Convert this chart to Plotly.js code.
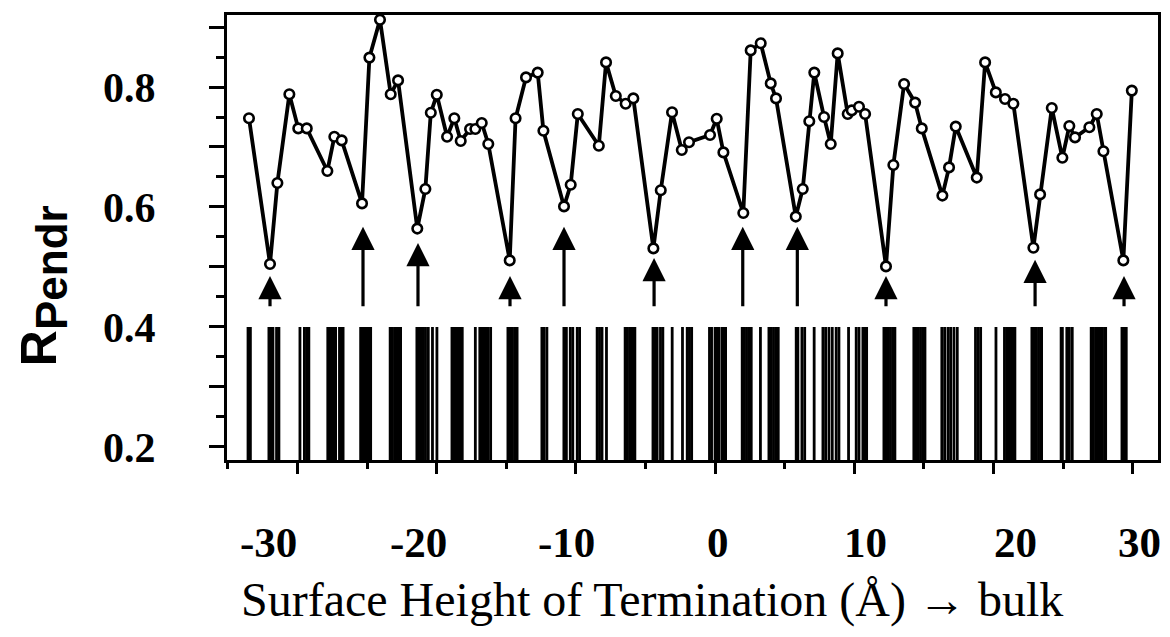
<!DOCTYPE html>
<html>
<head>
<meta charset="utf-8">
<script src="https://cdn.plot.ly/plotly-3.0.1.min.js"></script>
<style>html,body{margin:0;padding:0;background:#fff;}#chart{width:1170px;height:637px;}</style>
</head>
<body>
<div id="chart"></div>
<script>
// R_Pendr versus surface height of termination (Å)
const heights = [-33.48,-31.97,-31.44,-30.58,-29.94,-29.33,-27.85,-27.35,-26.82,-25.36,
  -24.83,-24.07,-23.30,-22.77,-21.39,-20.81,-20.42,-19.99,-19.25,-18.73,
  -18.27,-17.60,-17.22,-16.76,-16.29,-14.75,-14.33,-13.58,-12.74,-12.33,
  -10.85,-10.37,-9.86,-8.35,-7.83,-7.13,-6.42,-5.87,-4.43,-3.90,
  -3.09,-2.39,-1.87,-0.36,0.12,0.60,2.03,2.56,3.28,4.00,
  4.38,5.80,6.30,6.77,7.13,7.83,8.31,8.81,9.53,9.82,
  10.34,10.78,12.28,12.81,13.58,14.37,14.85,16.33,16.81,17.29,
  18.80,19.40,20.17,20.83,21.43,22.87,23.35,24.19,24.95,25.45,
  25.86,26.89,27.42,27.90,29.33,29.94];
const rPendr = [0.748,0.505,0.640,0.788,0.731,0.731,0.660,0.717,0.711,0.606,
  0.849,0.912,0.788,0.811,0.564,0.630,0.757,0.787,0.717,0.748,
  0.710,0.730,0.730,0.740,0.705,0.511,0.748,0.816,0.824,0.727,
  0.601,0.637,0.755,0.702,0.841,0.785,0.772,0.781,0.531,0.628,
  0.758,0.695,0.708,0.720,0.747,0.691,0.590,0.861,0.873,0.806,
  0.781,0.584,0.630,0.743,0.824,0.750,0.705,0.856,0.755,0.761,
  0.767,0.755,0.501,0.670,0.805,0.774,0.731,0.619,0.666,0.734,
  0.649,0.841,0.791,0.780,0.772,0.532,0.621,0.765,0.682,0.735,
  0.716,0.733,0.755,0.693,0.511,0.794];

// termination heights (vertical bar code at bottom)
const terminations = [-33.55,-33.38,-32.05,-31.9,-31.76,-31.5,-31.33,-29.82,-29.5,-29.34,-29.18,
  -27.82,-27.68,-27.52,-27.4,-27.26,-26.98,-26.84,-26.72,
  -25.46,-25.3,-25.14,-24.98,-24.84,-24.74,
  -23.34,-23.18,-23.02,-22.86,-22.72,-22.59,
  -21.42,-21.26,-21.1,-20.95,-20.8,-20.6,-20.3,-19.98,
  -18.9,-18.75,-18.6,-18.45,-18.3,-18.16,-17.22,
  -16.9,-16.75,-16.6,-16.45,-16.3,-16.12,
  -14.88,-14.72,-14.56,-14.4,-14.22,-12.44,-12.28,-12.08,
  -10.86,-10.68,-10.4,-10.22,-9.9,-9.73,-8.47,-8.3,-8.12,-7.8,
  -6.46,-6.3,-6.14,-5.98,-5.84,-5.76,-4.46,-4.3,-4.16,-3.92,-3.75,-3.08,-2.34,-2.0,-1.84,-1.68,
  -0.4,-0.25,0.0,0.14,0.28,0.5,0.64,0.76,
  1.95,2.1,2.26,2.42,2.6,3.26,3.87,4.03,4.2,4.37,4.54,
  5.83,5.95,6.24,6.44,7.12,7.75,7.94,8.18,8.42,8.7,8.9,9.59,10.14,10.34,10.62,10.76,10.89,
  12.13,12.28,12.44,12.6,12.76,12.92,14.28,14.44,14.6,14.76,14.92,15.08,
  16.29,16.49,16.73,16.92,17.16,17.4,18.71,18.9,19.08,20.18,
  20.79,20.95,21.1,21.26,21.42,21.54,22.76,22.92,23.08,23.24,23.4,23.46,
  24.86,24.95,25.27,25.45,25.66,
  27.02,27.18,27.34,27.5,27.66,27.82,27.98,28.06,29.23,29.38,29.54];
const terminationTop = 0.4;

// arrows marking minima
const arrowX = [-31.97,-25.29,-21.34,-14.73,-10.85,-4.38,1.99,5.91,12.28,22.99,29.38];
const arrowTip = [0.485,0.567,0.540,0.485,0.567,0.515,0.567,0.567,0.485,0.512,0.485];
const arrowTail = 0.432;

const xTickText = ['-30','-20','-10','0','10','20','30'];
// positions where the printed labels sit (shifted as in the original print)
const xLabelPos = [-32.1,-21.3,-10.7,0.2,10.8,21.6,30.5];
const yTickVals = [0.2,0.3,0.4,0.5,0.6,0.7,0.8,0.9];
const yTickText = ['0.2','','0.4','','0.6','','0.8',''];

const xRange = [-35.06, 31.82];
const yRange = [0.1783, 0.92];

const bx = [], by = [];
terminations.forEach(t => { bx.push(t, t, null); by.push(yRange[0], terminationTop, null); });

const traces = [
  {x: bx, y: by, mode: 'lines', line: {color: '#000', width: 2.8}, hoverinfo: 'skip', showlegend: false},
  {x: heights, y: rPendr, mode: 'lines+markers', showlegend: false,
   line: {color: '#000', width: 3.8},
   marker: {symbol: 'circle', size: 9.5, color: '#fff', line: {color: '#000', width: 2.6}}}
];

const serif = 'Liberation Serif, Times New Roman, serif';
const annotations = arrowX.map((x, i) => ({
  x: x, y: arrowTip[i], ax: x, ay: arrowTail, xref: 'x', yref: 'y', axref: 'x', ayref: 'y',
  text: '', showarrow: true, arrowhead: 2, arrowsize: 1.45, arrowwidth: 3.2, arrowcolor: '#000', standoff: 0
}));
xLabelPos.forEach((p, i) => annotations.push({
  x: p, xref: 'x', y: -0.186, yref: 'paper', showarrow: false, xanchor: 'center', yanchor: 'middle',
  text: xTickText[i], font: {family: serif, size: 43, weight: 'bold', color: '#000'}
}));
annotations.push({
  xref: 'paper', yref: 'paper', x: -0.197, y: 0.392, textangle: -90, showarrow: false,
  xanchor: 'center', yanchor: 'middle',
  text: '<span style="font-size:50px">R</span><sub><span style="font-size:44px">Pendr</span></sub>',
  font: {family: 'Liberation Sans, Arial, sans-serif', size: 50, weight: 'bold', color: '#000'}
});
annotations.push({
  xref: 'paper', yref: 'paper', x: 0.4565, y: -0.3146, showarrow: false,
  xanchor: 'center', yanchor: 'middle',
  text: 'Surface Height of Termination (Å) → bulk', font: {family: serif, size: 48, color: '#000'}
});

const layout = {
  width: 1170, height: 637,
  margin: {l: 227, r: 12, t: 15, b: 177},
  paper_bgcolor: '#fff', plot_bgcolor: '#fff',
  showlegend: false,
  xaxis: {range: xRange, showgrid: false, zeroline: false, showline: true, linecolor: '#000', linewidth: 3, mirror: true,
    tickmode: 'linear', tick0: 0, dtick: 10, showticklabels: false, ticks: 'outside', ticklen: 11, tickwidth: 3, tickcolor: '#000',
    minor: {dtick: 5, tick0: 0, ticks: 'outside', ticklen: 6, tickwidth: 3, tickcolor: '#000', showgrid: false}},
  yaxis: {range: yRange, showgrid: false, zeroline: false, showline: true, linecolor: '#000', linewidth: 3, mirror: true,
    tickmode: 'array', tickvals: yTickVals, ticktext: yTickText, ticks: 'outside', ticklen: 15, tickwidth: 3, tickcolor: '#000',
    ticklabelstandoff: 45,
    tickfont: {family: serif, size: 42, weight: 'bold', color: '#000'},
    minor: {dtick: 0.05, tick0: 0, ticks: 'outside', ticklen: 8, tickwidth: 3, tickcolor: '#000', showgrid: false}},
  annotations: annotations
};

Plotly.newPlot('chart', traces, layout, {displayModeBar: false, staticPlot: true});
</script>
</body>
</html>
